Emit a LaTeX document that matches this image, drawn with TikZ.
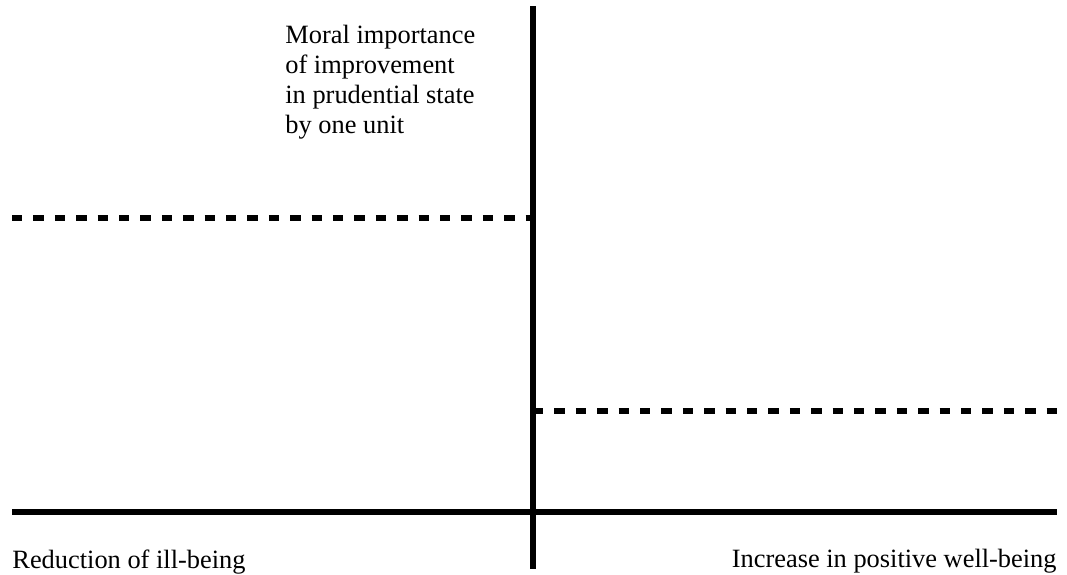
\documentclass[tikz,border=0pt]{standalone}
\usepackage{fontspec}
\setmainfont{Liberation Serif}
\usetikzlibrary{positioning}

\begin{document}
\begin{tikzpicture}[x=0.5pt,y=-0.5pt]
 		\tikzstyle{axis}=[line width=2.7pt]
 		\tikzstyle{level}=[line width=2.8pt,dash pattern=on 5.2pt off 5.5pt]
 		\tikzstyle{every node}=[inner sep=0pt,font=\fontsize{13.2}{15}\selectfont]
 		\useasboundingbox (0,0) rectangle (1067,574);
 		
 		\coordinate (top) at (533,6);
 		\coordinate (bottom) at (533,569);
 		\coordinate (left) at (12,512);
 		\coordinate (right) at (1057,512);
 		\coordinate (ill0) at (12,218);
 		\coordinate (ill1) at (533,218);
 		\coordinate (well0) at (533,411);
 		\coordinate (well1) at (1060,411);
 		
 		\draw[axis] (top) -- (bottom);
 		\draw[axis] (left) -- (right);
 		\draw[level] (ill0) -- (ill1);
 		\draw[level] (well0) -- (well1);
 		
 		\node (moral) [anchor=base west,align=left] at (285,133)
 		{Moral importance\\of improvement\\in prudential state\\by one unit};
 		\node (illbeing) [anchor=base west] at (12,568) {Reduction of ill-being};
 		\node (wellbeing) [anchor=base east] at (1057,567) {Increase in positive well-being};
\end{tikzpicture}
\end{document}
